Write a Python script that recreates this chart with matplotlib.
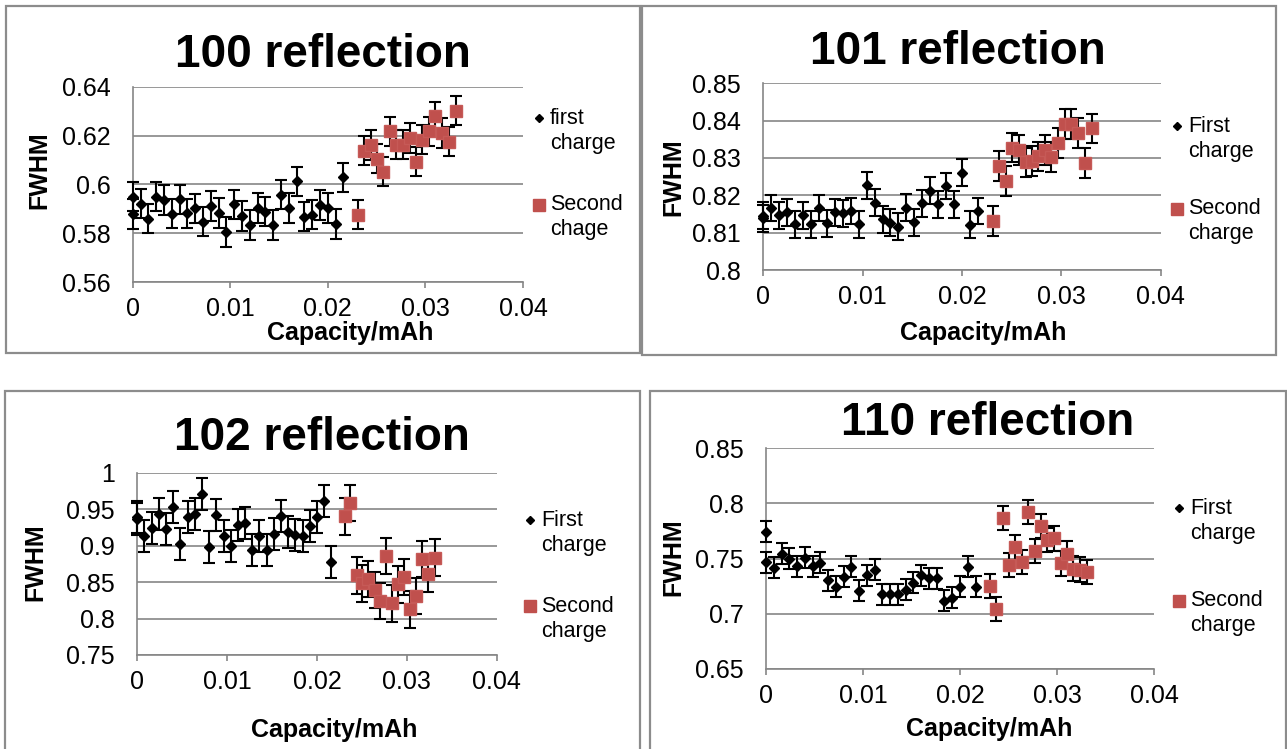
import matplotlib
matplotlib.use("Agg")
import matplotlib.pyplot as plt
from matplotlib.lines import Line2D
from matplotlib.patches import Rectangle
from matplotlib.ticker import FuncFormatter

plt.rcParams['font.family'] = ['Liberation Sans', 'DejaVu Sans']

W, H = 1287, 749

# Capacity (mAh) at each measurement
capacity_first = [0.0, 0.0, 0.0008, 0.0016, 0.0024, 0.0032, 0.0040, 0.0048, 0.0056,
                  0.0064, 0.0072, 0.0080, 0.0088, 0.0096, 0.0104, 0.0112, 0.0120,
                  0.0128, 0.0136, 0.0144, 0.0152, 0.0160, 0.0168, 0.0176, 0.0184,
                  0.0192, 0.0200, 0.0208, 0.0216]
capacity_second = [0.0231, 0.0237, 0.0244, 0.0250, 0.0257, 0.0264, 0.0270, 0.0277,
                   0.0284, 0.0290, 0.0297, 0.0304, 0.0310, 0.0317, 0.0324, 0.0331]
x_ticks = [0, 0.01, 0.02, 0.03, 0.04]

# FWHM values per reflection
fwhm100_first = [0.5949, 0.5879, 0.5921, 0.5860, 0.5949, 0.5936, 0.5880, 0.5938, 0.5881,
                 0.5902, 0.5847, 0.5911, 0.5883, 0.5805, 0.5918, 0.5870, 0.5834, 0.5903,
                 0.5888, 0.5834, 0.5957, 0.5903, 0.6013, 0.5868, 0.5876, 0.5915, 0.5903,
                 0.5837, 0.6029]
fwhm100_second = [0.5876, 0.6138, 0.6161, 0.6105, 0.6052, 0.6217, 0.6162, 0.6162,
                  0.6190, 0.6093, 0.6183, 0.6217, 0.6278, 0.6210, 0.6175, 0.6302]

fwhm101_first = [0.8145, 0.8138, 0.8166, 0.8147, 0.8154, 0.8123, 0.8147, 0.8123, 0.8166,
                 0.8125, 0.8154, 0.8152, 0.8158, 0.8123, 0.8227, 0.8180, 0.8136, 0.8127,
                 0.8116, 0.8167, 0.8128, 0.8179, 0.8212, 0.8176, 0.8225, 0.8176, 0.8261,
                 0.8121, 0.8158]
fwhm101_second = [0.8132, 0.8279, 0.8239, 0.8328, 0.8321, 0.8288, 0.8292, 0.8304,
                  0.8321, 0.8302, 0.8341, 0.8390, 0.8390, 0.8368, 0.8286, 0.8379]

fwhm102_first = [0.9364, 0.9390, 0.9136, 0.9245, 0.9436, 0.9232, 0.9527, 0.9023, 0.9391,
                 0.9436, 0.9705, 0.8982, 0.9414, 0.9127, 0.9000, 0.9282, 0.9305, 0.8936,
                 0.9136, 0.8936, 0.9155, 0.9400, 0.9182, 0.9145, 0.9136, 0.9273, 0.9391,
                 0.9618, 0.8773]
fwhm102_second = [0.9400, 0.9582, 0.8591, 0.8482, 0.8545, 0.8391, 0.8241, 0.8855,
                  0.8209, 0.8468, 0.8573, 0.8127, 0.8309, 0.8818, 0.8609, 0.8836]

fwhm110_first = [0.7742, 0.7464, 0.7418, 0.7545, 0.7500, 0.7430, 0.7509, 0.7430, 0.7461,
                 0.7303, 0.7242, 0.7333, 0.7424, 0.7206, 0.7348, 0.7400, 0.7176, 0.7176,
                 0.7176, 0.7218, 0.7279, 0.7348, 0.7321, 0.7321, 0.7115, 0.7145, 0.7242,
                 0.7424, 0.7242]
fwhm110_second = [0.7252, 0.7039, 0.7867, 0.7439, 0.7600, 0.7470, 0.7924, 0.7570,
                  0.7797, 0.7667, 0.7682, 0.7455, 0.7545, 0.7409, 0.7400, 0.7379]

# Error bar half-widths
err100 = [0.0060, 0.0060]
err101 = [0.0036, 0.0040]
err102 = [0.0220, 0.0250]
err110 = [0.0095, 0.0110]

y_ticks_100 = [0.56, 0.58, 0.60, 0.62, 0.64]
y_ticks_101 = [0.80, 0.81, 0.82, 0.83, 0.84, 0.85]
y_ticks_102 = [0.75, 0.80, 0.85, 0.90, 0.95, 1.00]
y_ticks_110 = [0.65, 0.70, 0.75, 0.80, 0.85]

titles = ["100 reflection", "101 reflection", "102 reflection", "110 reflection"]
legend_first = [["first", "charge"], ["First", "charge"], ["First", "charge"], ["First", "charge"]]
legend_second = [["Second", "chage"], ["Second", "charge"], ["Second", "charge"], ["Second", "charge"]]
x_label = "Capacity/mAh"
y_label = "FWHM"

GRID = '#868686'
RED = '#C0504D'

fig = plt.figure(figsize=(W / 100, H / 100), dpi=100)


def fx(px):
    return px / W


def fy(py):
    return 1 - py / H


# layout in pixels: frame box, plot area, text anchors
layout = [
    dict(box=(6, 6, 640, 353), plot=(132.7, 86.7, 523.0, 282.0), title=(323, 55),
         ylab=(39, 170), xlab=(350, 333), leg=(539, 550, 118, 205)),
    dict(box=(642, 6, 1276, 355), plot=(763.3, 83.3, 1160.7, 270.0), title=(958, 52),
         ylab=(673, 177), xlab=(983, 333), leg=(1177, 1188, 126, 209)),
    dict(box=(5, 391, 640, 760), plot=(137.3, 472.7, 496.7, 655.0), title=(322, 438),
         ylab=(35, 562), xlab=(334, 730), leg=(530, 541, 520, 606)),
    dict(box=(650, 391, 1286, 760), plot=(766.0, 448.3, 1154.0, 668.7), title=(988, 423),
         ylab=(673, 557), xlab=(989, 729), leg=(1179, 1190, 508, 601)),
]

series = [
    (fwhm100_first, fwhm100_second, err100, y_ticks_100),
    (fwhm101_first, fwhm101_second, err101, y_ticks_101),
    (fwhm102_first, fwhm102_second, err102, y_ticks_102),
    (fwhm110_first, fwhm110_second, err110, y_ticks_110),
]

fmt = FuncFormatter(lambda v, p: f"{round(v, 4):g}")

for i, (lay, (yf, ys, err, yt)) in enumerate(zip(layout, series)):
    bx0, by0, bx1, by1 = lay['box']
    fig.add_artist(Rectangle((fx(bx0), fy(by1)), fx(bx1 - bx0), (by1 - by0) / H,
                             transform=fig.transFigure, fill=False,
                             edgecolor='#8c8c8c', lw=1.6, zorder=0))

    px0, py0, px1, py1 = lay['plot']
    ax = fig.add_axes([fx(px0), fy(py1), fx(px1 - px0), (py1 - py0) / H])
    ax.set_facecolor('none')

    for xs, vals, e in ((capacity_first, yf, err[0]), (capacity_second, ys, err[1])):
        eb = ax.errorbar(xs, vals, yerr=e, fmt='none', ecolor='black',
                         elinewidth=1.5, capsize=4.5, capthick=1.5, zorder=3)
        for art in eb.lines[1] + eb.lines[2]:
            art.set_clip_on(False)
    ax.plot(capacity_first, yf, linestyle='none', marker='D', markersize=5.4,
            color='black', zorder=4, clip_on=False)
    ax.plot(capacity_second, ys, linestyle='none', marker='s', markersize=8.5,
            color=RED, markeredgecolor='#c65a57', zorder=5, clip_on=False)

    ax.set_xlim(x_ticks[0], x_ticks[-1])
    ax.set_ylim(yt[0], yt[-1])
    ax.set_xticks(x_ticks)
    ax.set_yticks(yt)
    ax.xaxis.set_major_formatter(fmt)
    ax.yaxis.set_major_formatter(fmt)
    ax.grid(axis='y', color=GRID, lw=1.2)
    ax.set_axisbelow(True)
    for s in ('top', 'right'):
        ax.spines[s].set_visible(False)
    for s in ('left', 'bottom'):
        ax.spines[s].set_color(GRID)
        ax.spines[s].set_linewidth(1.2)
    ax.tick_params(axis='x', direction='out', length=4, width=1.2, color=GRID,
                   pad=7, labelsize=18)
    ax.tick_params(axis='y', length=0, pad=16, labelsize=18)

    fig.text(fx(lay['title'][0]), fy(lay['title'][1]), titles[i], fontsize=33,
             fontweight='bold', ha='center', va='center')
    fig.text(fx(lay['ylab'][0]), fy(lay['ylab'][1]), y_label, fontsize=18,
             fontweight='bold', ha='center', va='center', rotation=90)
    fig.text(fx(lay['xlab'][0]), fy(lay['xlab'][1]), x_label, fontsize=18,
             fontweight='bold', ha='center', va='center')

    mx, tx, y1, y2 = lay['leg']
    fig.add_artist(Line2D([fx(mx)], [fy(y1)], transform=fig.transFigure, marker='D',
                          markersize=4.5, color='black', linestyle='none'))
    fig.add_artist(Line2D([fx(mx)], [fy(y2)], transform=fig.transFigure, marker='s',
                          markersize=9, color=RED, linestyle='none'))
    for j, line in enumerate(legend_first[i]):
        fig.text(fx(tx), fy(y1 + 25 * j), line, fontsize=15.5, ha='left', va='center')
    for j, line in enumerate(legend_second[i]):
        fig.text(fx(tx), fy(y2 + 25 * j), line, fontsize=15.5, ha='left', va='center')

fig.savefig('out.png', dpi=100)
